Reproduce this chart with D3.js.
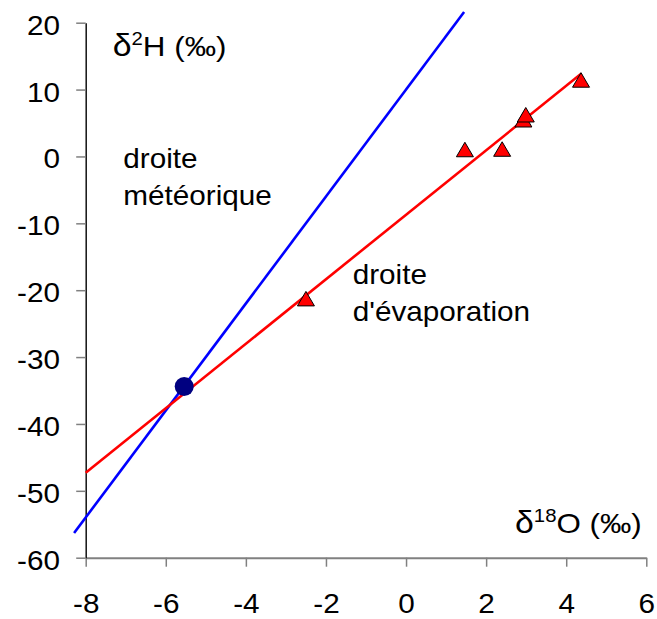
<!DOCTYPE html>
<html><head><meta charset="utf-8">
<script src="https://cdn.jsdelivr.net/npm/d3@7"></script>
<style>body{margin:0;background:#fff}svg{display:block}</style>
</head><body>
<svg id="c" width="657" height="619"></svg>
<script>
// ---- data ----
const xTicks = [-8, -6, -4, -2, 0, 2, 4, 6];
const yTicks = [-60, -50, -40, -30, -20, -10, 0, 10, 20];
const sampleX = [-2.5, 1.47, 2.4, 2.93, 2.99, 4.37];
const sampleY = [-21.3, 1.0, 1.07, 5.45, 6.2, 11.4];
const sourceX = [-5.54];
const sourceY = [-34.4];
const meteoricX = [-8.29, 1.45];
const meteoricY = [-56.3, 21.6];
const evapX = [-8, 4.38];
const evapY = [-47.3, 12.4];

const svg = d3.select("#c");
const x = d3.scaleLinear().domain([-8, 6]).range([85.7, 646.3]);
const y = d3.scaleLinear().domain([-60, 20]).range([557.7, 22.7]);
const FONT = "'Liberation Sans', Arial, sans-serif";
const FS = 27, SX = 1.1;
const fmt = d => String(d);

// axes
const gx = svg.append("g").attr("transform", `translate(0,${y(-60)})`)
  .call(d3.axisBottom(x).tickValues(xTicks).tickSize(9).tickSizeOuter(0).tickFormat(fmt));
gx.select(".domain").attr("stroke", "#808080").attr("stroke-width", 2);
gx.selectAll(".tick line").attr("stroke", "#808080").attr("stroke-width", 1.5);
gx.selectAll(".tick text").attr("y", 0).attr("dy", 0)
  .attr("transform", `translate(0,55) scale(${SX},1)`)
  .attr("font-family", FONT).attr("font-size", FS).attr("fill", "#000");

const gy = svg.append("g").attr("transform", `translate(${x(-8)},0)`)
  .call(d3.axisLeft(y).tickValues(yTicks).tickSize(9.5).tickSizeOuter(0).tickFormat(fmt));
gy.select(".domain").attr("stroke", "#111").attr("stroke-width", 1.5);
gy.selectAll(".tick line").attr("stroke", "#808080").attr("stroke-width", 1.5);
gy.selectAll(".tick text").attr("x", 0).attr("dy", 0)
  .attr("transform", `translate(-25.7,11.5) scale(${SX},1)`)
  .attr("font-family", FONT).attr("font-size", FS).attr("fill", "#000");

// lines
const line = d3.line().x(d => x(d[0])).y(d => y(d[1]));
svg.append("path").datum(meteoricX.map((v, i) => [v, meteoricY[i]]))
  .attr("d", line).attr("stroke", "#0000ff").attr("stroke-width", 2.6).attr("fill", "none");
svg.append("path").datum(evapX.map((v, i) => [v, evapY[i]]))
  .attr("d", line).attr("stroke", "#ff0000").attr("stroke-width", 2.6).attr("fill", "none");

// source point
svg.selectAll("circle.src").data(sourceX.map((v, i) => [v, sourceY[i]])).enter()
  .append("circle").attr("class", "src")
  .attr("cx", d => x(d[0])).attr("cy", d => y(d[1])).attr("r", 9.5).attr("fill", "#000080");

// samples (triangles)
const tri = "M0,-7.5 L8.5,7 L-8.5,7 Z";
svg.selectAll("path.tri").data(sampleX.map((v, i) => [v, sampleY[i]])).enter()
  .append("path").attr("class", "tri")
  .attr("d", tri)
  .attr("transform", d => `translate(${x(d[0])},${y(d[1])})`)
  .attr("fill", "#ff0000").attr("stroke", "#000").attr("stroke-width", 1);

// text helper
function label(px, py, first, sup, rest, size) {
  const fs = size || FS;
  const t = svg.append("text").attr("transform", `translate(${px},${py}) scale(${SX},1)`)
    .attr("font-family", FONT).attr("font-size", fs).attr("fill", "#000");
  if (sup) {
    t.append("tspan").attr("font-size", fs * 1.08).text(first);
    t.append("tspan").attr("font-size", 18.5).attr("dy", -11).text(sup);
    t.append("tspan").attr("dy", 11).text(rest);
  } else {
    t.append("tspan").text(first);
  }
  return t;
}
label(112.7, 56, "δ", "2", "H (‰)", 28.5);
label(515, 533, "δ", "18", "O (‰)", 28.5);
label(123.3, 168.3, "droite");
label(123.3, 204.5, "météorique");
label(352.7, 284.3, "droite");
label(352.7, 320.5, "d'évaporation");
</script>
</body></html>
